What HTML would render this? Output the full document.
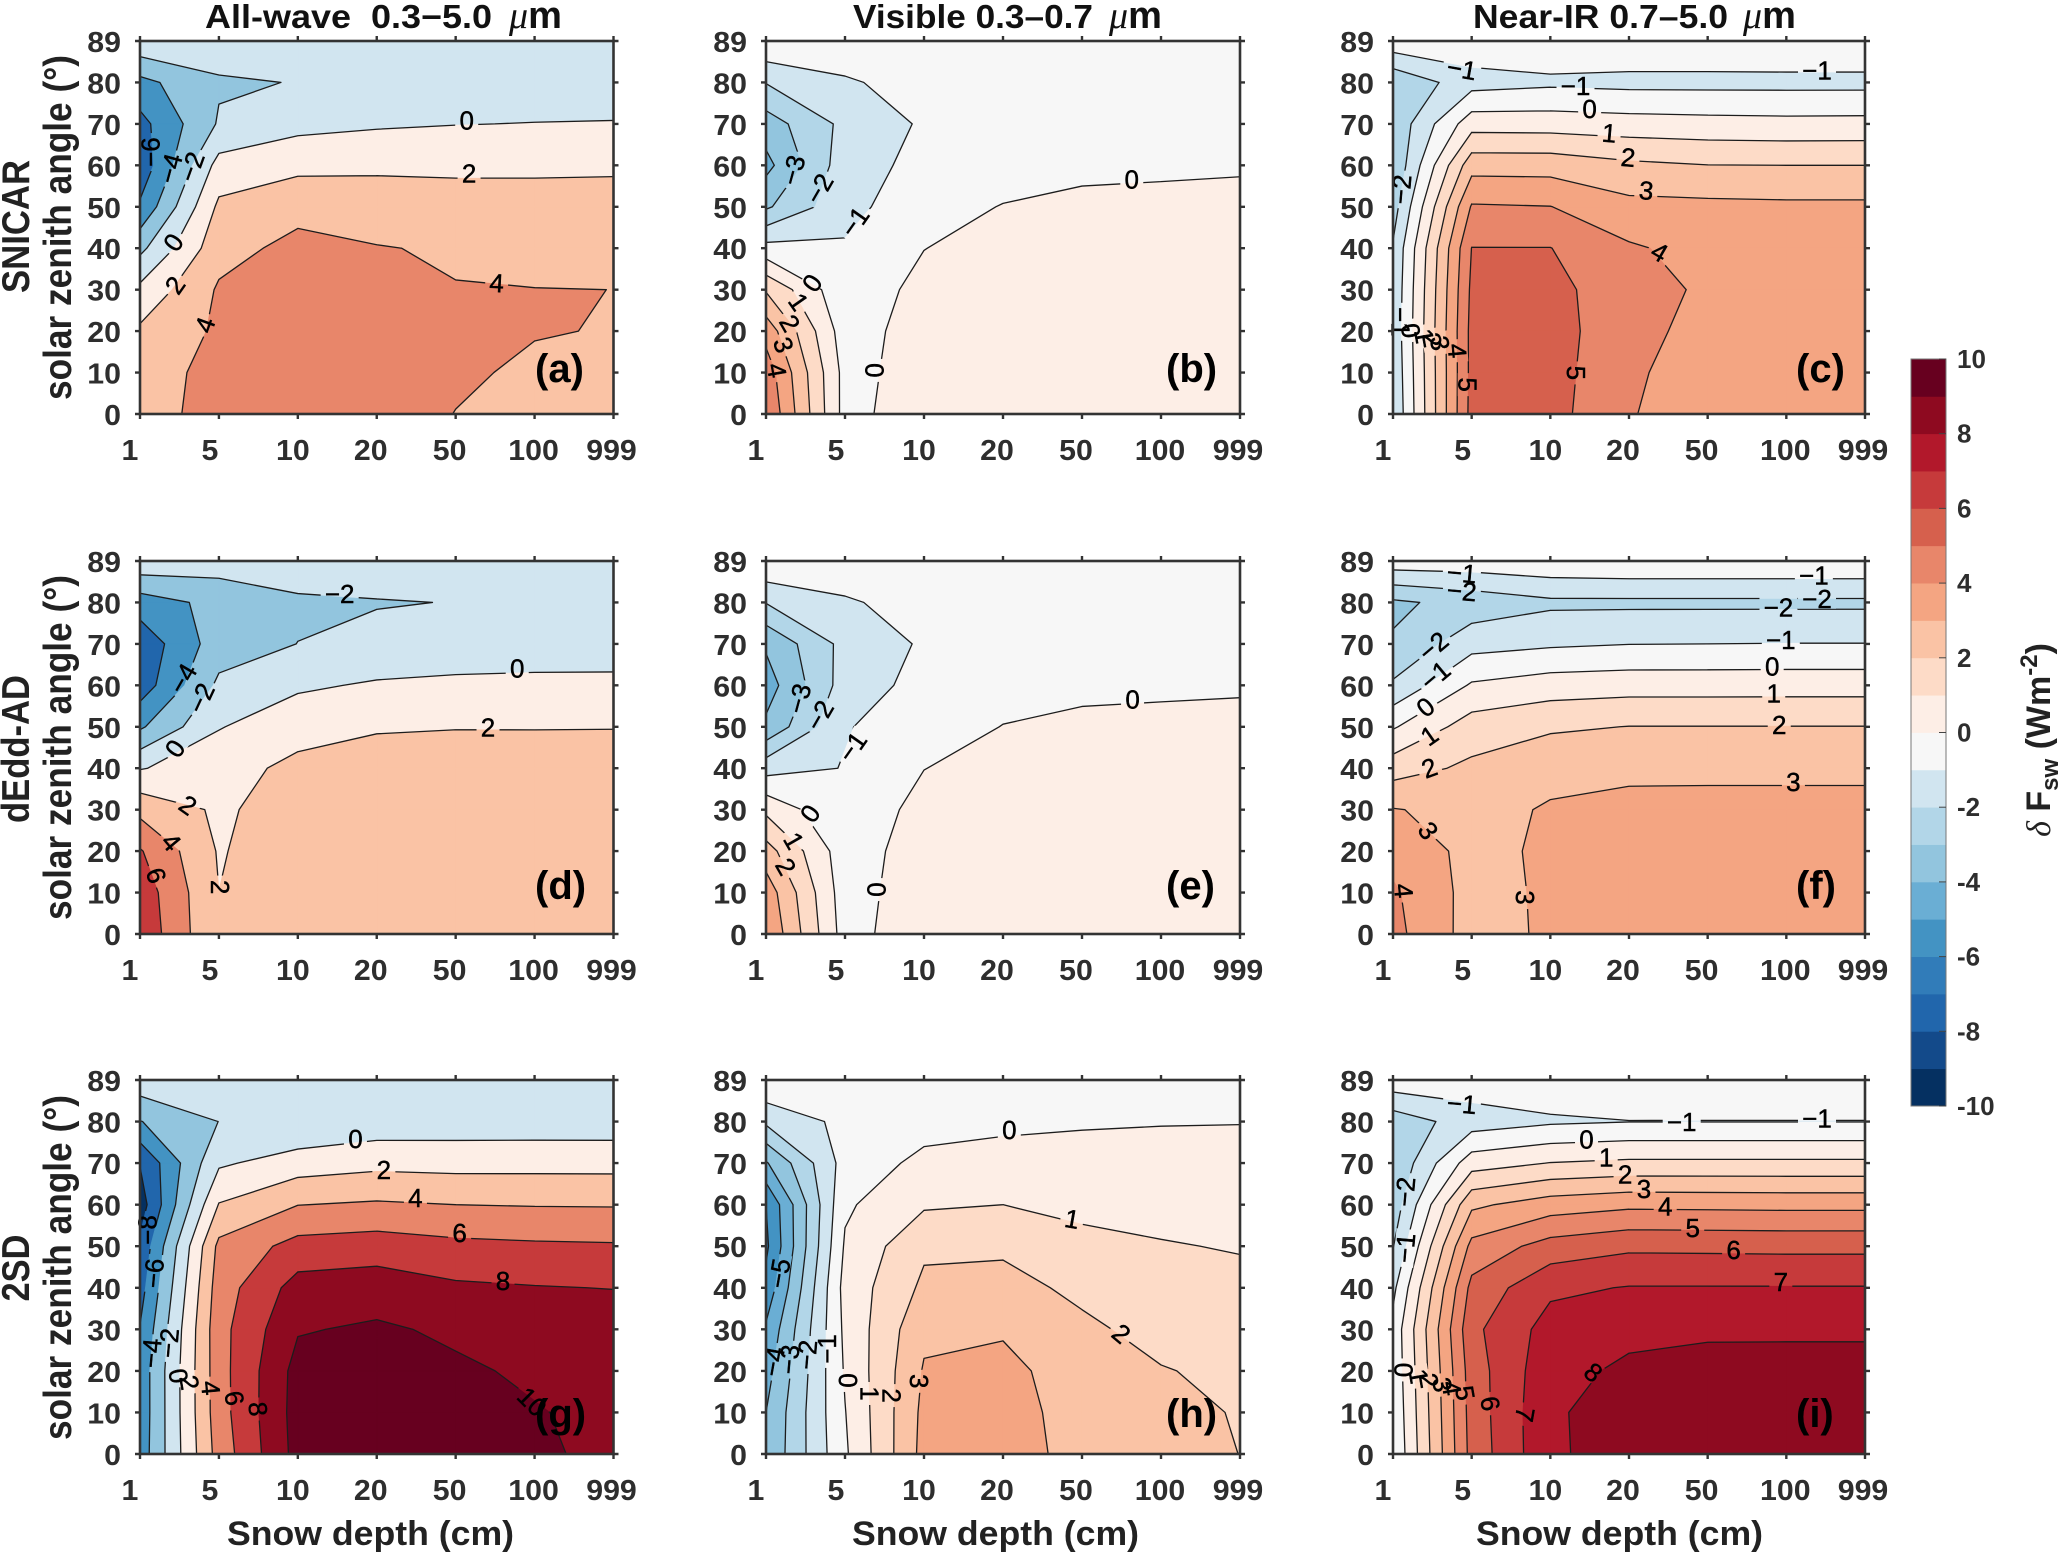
<!DOCTYPE html>
<html lang="en">
<head>
<meta charset="utf-8">
<title>Snow depth vs solar zenith angle contour panels</title>
<style>
html,body{margin:0;padding:0;background:#fff;}
svg{display:block;font-family:"Liberation Sans",Arial,sans-serif;}
.tick{font-weight:700;fill:#2e2e2e;font-size:29px;}
.axis-title{font-weight:700;fill:#222;}
.title{font-weight:700;fill:#111;font-size:33px;white-space:pre;}
.letter{font-weight:700;fill:#000;font-size:40px;}
.clabel{fill:#000;font-size:26px;stroke:#000;stroke-width:.45px;}
.cbtick{font-weight:700;fill:#2e2e2e;font-size:26px;}
</style>
</head>
<body>
<svg id="figure" xmlns="http://www.w3.org/2000/svg" width="2067" height="1552" viewBox="0 0 2067 1552">
  <rect x="0" y="0" width="2067" height="1552" fill="#fff"/>

  <text class="title" x="205" y="28" textLength="287" lengthAdjust="spacingAndGlyphs">All-wave  0.3−5.0</text>
  <text x="509" y="28" font-size="38" font-weight="700" fill="#111"><tspan font-family="'Liberation Serif',serif" font-style="italic" font-weight="400">μ</tspan>m</text>
  <text class="title" x="853" y="28" textLength="240" lengthAdjust="spacingAndGlyphs">Visible 0.3–0.7</text>
  <text x="1109" y="28" font-size="38" font-weight="700" fill="#111"><tspan font-family="'Liberation Serif',serif" font-style="italic" font-weight="400">μ</tspan>m</text>
  <text class="title" x="1473" y="28" textLength="255" lengthAdjust="spacingAndGlyphs">Near-IR 0.7–5.0</text>
  <text x="1743" y="28" font-size="38" font-weight="700" fill="#111"><tspan font-family="'Liberation Serif',serif" font-style="italic" font-weight="400">μ</tspan>m</text>

  <text class="axis-title" font-size="35" text-anchor="middle" textLength="133" lengthAdjust="spacingAndGlyphs" transform="translate(29,226.5) rotate(-90) scale(1,1.12)">SNICAR</text>
  <text class="axis-title" font-size="35" text-anchor="middle" textLength="148" lengthAdjust="spacingAndGlyphs" transform="translate(29,749) rotate(-90) scale(1,1.12)">dEdd-AD</text>
  <text class="axis-title" font-size="35" text-anchor="middle" textLength="67" lengthAdjust="spacingAndGlyphs" transform="translate(29,1268) rotate(-90) scale(1,1.12)">2SD</text>

  <text class="axis-title" font-size="35" text-anchor="middle" textLength="345" lengthAdjust="spacingAndGlyphs" transform="translate(71,227.5) rotate(-90) scale(1,1.12)">solar zenith angle (°)</text>
  <text class="axis-title" font-size="35" text-anchor="middle" textLength="345" lengthAdjust="spacingAndGlyphs" transform="translate(71,747.5) rotate(-90) scale(1,1.12)">solar zenith angle (°)</text>
  <text class="axis-title" font-size="35" text-anchor="middle" textLength="345" lengthAdjust="spacingAndGlyphs" transform="translate(71,1267.5) rotate(-90) scale(1,1.12)">solar zenith angle (°)</text>

  <text class="axis-title" font-size="34" x="227" y="1545" textLength="287" lengthAdjust="spacingAndGlyphs">Snow depth (cm)</text>
  <text class="axis-title" font-size="34" x="852" y="1545" textLength="287" lengthAdjust="spacingAndGlyphs">Snow depth (cm)</text>
  <text class="axis-title" font-size="34" x="1476" y="1545" textLength="287" lengthAdjust="spacingAndGlyphs">Snow depth (cm)</text>

  <g id="panels"></g>
  <g id="colorbar"></g>

  <text class="axis-title" font-size="34" text-anchor="middle" transform="translate(2050,740) rotate(-90)"><tspan font-family="'Liberation Serif',serif" font-style="italic" font-weight="400">δ</tspan> F<tspan font-size="24" dy="8">sw</tspan><tspan dy="-8">  (Wm</tspan><tspan font-size="24" dy="-13">-2</tspan><tspan dy="13">)</tspan></text>
</svg>

<script>
// Axis categories and tick labels
const depthCategories = ['1', '5', '10', '20', '50', '100', '999'];
const zenithAngles = [0, 10, 20, 30, 40, 50, 60, 70, 80, 89];
const zenithTicks = [0, 10, 20, 30, 40, 50, 60, 70, 80, 89];
const colorbarTicks = [10, 8, 6, 4, 2, 0, -2, -4, -6, -8, -10];

// Colormap, one colour per unit from -10 upward
const colormap = ['#053061','#134a8a','#2166ac','#317cb9','#4393c3','#6aaed4','#92c5de','#b2d6e8','#d1e5f0','#f7f7f7','#fdeee6','#fddbc7','#fac3a5','#f4a582','#e8866a','#d6604d','#c63a3b','#b2182b','#8e0a20','#67001f'];

// Series values: rows follow zenithAngles, columns follow depthCategories
const panelAValues = [
 [3.1,4.8,4.9,4.5,3.98,3.7,3.6],
 [2.9,4.75,5.0,4.7,4.15,3.84,3.7],
 [2.33,4.32,5.0,4.8,4.3,4.05,3.96],
 [.48,4.23,4.9,4.6,4.04,4.02,3.998],
 [-2.5,3.3,4.55,4.06,3.87,3.6,3.5],
 [-5.7,2.4,3.4,3.35,2.9,2.85,2.8],
 [-7.37,.73,1.5,1.55,1.6,1.62,1.7],
 [-6.66,-1.8,-.6,-.23,-.05,.05,.1],
 [-4.6,-2.22,-1.94,-1.5,-1.3,-1.2,-1.1],
 [-.42,-1,-.8,-.6,-.5,-.45,-.4]];
const panelBValues = [
 [4.96,-.37,.64,.75,.8,.8,.8],
 [4.6,-.35,.45,.7,.8,.8,.8],
 [3.6,-.55,.52,.65,.75,.8,.8],
 [1.9,-.8,.36,.6,.7,.75,.75],
 [-.65,-.9,-.02,.45,.55,.6,.65],
 [-3.15,-1.3,-.4,.04,.27,.34,.42],
 [-4.3,-1.45,-.71,-.45,-.27,-.22,-.16],
 [-3.49,-1.74,-.87,-.6,-.5,-.45,-.4],
 [-1.96,-1.1,-.68,-.5,-.4,-.35,-.3],
 [-.05,-.45,-.3,-.2,-.15,-.1,-.1]];
const panelCValues = [
 [-1.95,5.35,5.37,4.05,3.6,3.55,3.5],
 [-1.85,5.3,5.43,4.12,3.65,3.6,3.55],
 [-1.75,5.3,5.43,4.3,3.7,3.65,3.6],
 [-1.8,5.2,5.3,4.4,3.85,3.65,3.6],
 [-1.9,5.02,5.02,4.13,3.65,3.5,3.5],
 [-2.45,4.1,4.02,3.3,3.25,3.2,3.2],
 [-2.9,2.62,2.6,2.2,2.02,2.0,2.0],
 [-2.77,.58,.55,.43,.35,.3,.32],
 [-2.85,-1.4,-1.2,-1.3,-1.3,-1.3,-1.3],
 [-.3,-.3,-.2,-.15,-.15,-.1,-.1]];
const panelDValues = [
 [7.5,2.02,3.4,3.3,3.3,3.3,3.3],
 [7.2,2.01,3.4,3.4,3.35,3.3,3.3],
 [6.17,1.83,3.3,3.4,3.4,3.35,3.3],
 [3.42,1.69,2.9,3.4,3.4,3.35,3.35],
 [-.12,1.1,2.57,3.27,3.3,3.25,3.25],
 [-4.29,-.1,1.14,1.74,1.9,1.9,1.92],
 [-7.1,-1.6,-.28,.21,.42,.5,.5],
 [-7.38,-2.95,-1.98,-1.4,-1.2,-1.1,-1.05],
 [-5,-3.4,-2.3,-2.12,-1.95,-1.8,-1.7],
 [-.5,-1,-.9,-.7,-.6,-.5,-.4]];
const panelEValues = [
 [3.95,-.45,.75,.8,.85,.85,.85],
 [3.58,-.55,.7,.75,.85,.85,.85],
 [2.42,-.58,.55,.7,.8,.85,.85],
 [.78,-.95,.43,.6,.7,.75,.75],
 [-1.4,-.96,-.02,.45,.55,.6,.65],
 [-3.8,-1.05,-.6,.03,.26,.33,.4],
 [-4.47,-1.55,-.66,-.45,-.27,-.22,-.17],
 [-3.86,-1.68,-.88,-.6,-.5,-.45,-.4],
 [-1.96,-1.1,-.68,-.5,-.4,-.35,-.3],
 [-.03,-.45,-.3,-.2,-.15,-.1,-.1]];
const panelFValues = [
 [4.3,2.6,3.15,3.3,3.3,3.3,3.3],
 [4.15,2.65,3.15,3.3,3.3,3.3,3.3],
 [3.65,2.73,3.15,3.3,3.3,3.3,3.3],
 [3.05,2.72,3.08,3.13,3.14,3.14,3.14],
 [1.56,2.2,2.75,2.9,2.9,2.9,2.9],
 [-.1,1.48,1.85,2.02,2.02,2.02,2.02],
 [-1.85,.12,.5,.6,.6,.61,.61],
 [-2.9,-1.36,-1.15,-1.02,-1,-.98,-.98],
 [-3.18,-2.65,-2.2,-2.2,-2.2,-2.2,-2.2],
 [-.4,-.4,-.2,-.1,-.1,-.1,-.1]];
const panelGValues = [
 [-5.17,4.83,10.7,10.9,10.6,10.4,9.4],
 [-5.3,5.15,10.8,11,10.8,10.12,9.5],
 [-5.3,5.2,10.7,10.9,10.3,9.7,9.4],
 [-5.9,5.3,9.85,10.28,9.67,9.3,9.2],
 [-6.8,5.0,8.8,9.08,8.32,8.1,7.95],
 [-7.6,4.5,6.7,7,6.5,6.3,6.2],
 [-9,2.1,3.96,4.25,4,3.9,3.87],
 [-7.9,-.3,.97,1.45,1.32,1.35,1.34],
 [-4.07,-1.98,-1.9,-1.2,-1.1,-1.1,-1.1],
 [-.7,-.9,-.9,-.9,-1,-1,-1]];
const panelHValues = [
 [-3.9,-.15,3.33,3.4,2.7,2.4,1.99],
 [-4.0,-.035,3.25,3.45,2.55,2.3,1.93],
 [-4.4,.1,3.09,3.39,2.3,2.05,1.8],
 [-4.85,.21,2.79,2.85,2.18,1.7,1.5],
 [-5.7,.35,2.2,2.3,1.8,1.4,1.2],
 [-6.2,.12,1.83,1.85,1.28,1.05,.95],
 [-6.0,-.15,.87,1.0,.75,.75,.72],
 [-4.1,-.6,.25,.45,.38,.4,.38],
 [-1.8,-.72,-.38,-.25,-.1,-.05,-.03],
 [-.05,-.3,-.15,-.1,-.05,-.03,-.03]];
const panelIValues = [
 [-.96,5.35,7.85,8.43,8.55,8.6,8.6],
 [-.85,5.42,7.85,8.49,8.6,8.6,8.6],
 [-.75,5.5,7.7,8.17,8.4,8.42,8.42],
 [-.7,5.75,7.4,7.77,7.82,7.82,7.82],
 [-1.25,5.3,6.8,7.05,7.05,7.05,7.05],
 [-2.05,4.3,5.4,5.8,5.78,5.75,5.75],
 [-2.6,2.8,3.5,3.78,3.75,3.72,3.72],
 [-2.9,.55,1.03,1.2,1.2,1.2,1.2],
 [-2.6,-1.5,-1.15,-1.02,-1.02,-1.02,-1.02],
 [-.35,-.4,-.3,-.25,-.3,-.3,-.3]];

// Contour annotations: printed level, depth-category position, height within the axis (0-89), text tilt
const panelALabels = [['0',4.14,70.1,0],['2',4.17,57.5,0],['4',4.52,31.3,3],['−6',.13,62.5,-90],['−4',.38,58.6,-75],['−2',.65,59,-70],['0',.42,41,-55],['2',.44,30.8,-55],['4',.82,21.3,-70]];
const panelBLabels = [['0',4.63,56,0],['−3',.34,58.2,-75],['−2',.67,53.8,-60],['−1',1.12,45.9,-55],['0',.58,31.3,-55],['1',.415,26.8,55],['2',.305,21.7,60],['3',.225,16.5,70],['4',.14,10.4,80],['0',1.375,10.4,90]];
const panelCLabels = [['−1',.875,82.4,10],['−1',2.32,78.4,0],['−1',5.39,82.1,0],['0',2.5,72.9,0],['1',2.75,67.1,5],['2',2.99,61.3,5],['3',3.22,53.4,5],['4',3.39,38.7,30],['5',2.33,9.8,90],['5',.95,7,90],['−2',.1,53.6,-85],['−1',.1,22,90],['0',.23,19.9,80],['1',.4,18.6,80],['2',.5,17.7,80],['3',.6,16.9,80],['4',.82,15.1,85]];
const panelDLabels = [['−2',2.53,81.2,0],['0',4.78,63.4,0],['2',4.41,49.3,0],['−4',.54,61,-60],['−2',.77,56.3,-65],['0',.44,44.3,-55],['2',.61,30.8,35],['4',.4,22,50],['6',.21,14,70],['2',1.02,11.2,90]];
const panelELabels = [['0',4.64,56,0],['−3',.415,56.2,-75],['−2',.675,52.2,-60],['−1',1.09,44.7,-55],['0',.555,28.8,-55],['1',.355,22.3,60],['2',.255,16.1,60],['0',1.4,10.6,90]];
const panelFLabels = [['−1',.875,86.2,5],['−2',.875,81.9,5],['−1',5.35,85.6,0],['−2',5.39,80,0],['−2',4.9,78,0],['−1',4.93,70.2,0],['0',4.82,63.9,0],['1',4.84,57.5,0],['2',4.91,50,0],['3',5.09,36.3,0],['−2',.51,68.7,-40],['−1',.535,61.7,-40],['0',.41,54.2,-40],['1',.46,47.4,-35],['2',.46,39.7,-20],['3',.45,24.7,55],['4',.14,10.3,85],['3',1.68,8.7,90]];
const panelGLabels = [['0',2.73,75.1,0],['2',3.09,67.7,0],['4',3.49,61,0],['6',4.05,52.7,0],['8',4.6,41.3,0],['−8',.09,53.3,-90],['−6',.17,43,-85],['−4',.14,24,-85],['−2',.36,26.4,-85],['0',.49,18.6,80],['2',.63,17,80],['4',.9,15.7,85],['6',1.2,13.3,80],['8',1.5,10.7,85],['10',4.97,12.5,45]];
const panelHLabels = [['0',3.08,77.2,0],['1',3.875,56,10],['2',4.5,28.7,40],['−5',.165,43,-80],['−4',.09,22,-80],['−3',.29,22.5,-85],['−2',.515,23.6,-85],['−1',.765,25,-90],['0',1.04,17.5,90],['1',1.315,14.4,90],['2',1.59,13.9,90],['3',1.94,17.3,90]];
const panelILabels = [['−1',.875,83.4,5],['−1',3.67,79.1,0],['−1',5.39,79.9,0],['0',2.46,74.9,0],['1',2.71,70.6,0],['2',2.95,66.6,0],['3',3.19,63.1,0],['4',3.46,59,0],['5',3.81,53.9,0],['6',4.33,48.6,0],['7',4.93,41,0],['8',2.55,19.5,40],['−2',.15,62.4,-85],['−1',.15,49,-85],['0',.136,20,90],['1',.33,18.5,80],['2',.46,17.5,80],['3',.63,16.5,80],['4',.75,15.7,80],['5',.92,14.5,80],['6',1.24,12,80],['7',1.68,9.4,100]];

const NS = 'http://www.w3.org/2000/svg';
const panelsRoot = document.getElementById('panels');
const colorbarRoot = document.getElementById('colorbar');

function make(tag, attrs, parent) {
  const el = document.createElementNS(NS, tag);
  for (const k in attrs) el.setAttribute(k, attrs[k]);
  if (parent) parent.appendChild(el);
  return el;
}

const columnFrames = [[140, 613.5], [766, 1240], [1393, 1865]];
const rowFrames = [[41, 414], [561, 934], [1080, 1454]];
const xTickShift = [-10, -9, -5, -6, -6, -1, -2];
const letterLeft = [535, 1166, 1796];
const letterBase = [382, 899, 1427];

const panelDefs = [
  {id:'a', col:0, row:0, step:2, values:panelAValues, labels:panelALabels},
  {id:'b', col:1, row:0, step:1, values:panelBValues, labels:panelBLabels},
  {id:'c', col:2, row:0, step:1, values:panelCValues, labels:panelCLabels},
  {id:'d', col:0, row:1, step:2, values:panelDValues, labels:panelDLabels},
  {id:'e', col:1, row:1, step:1, values:panelEValues, labels:panelELabels},
  {id:'f', col:2, row:1, step:1, values:panelFValues, labels:panelFLabels},
  {id:'g', col:0, row:2, step:2, values:panelGValues, labels:panelGLabels},
  {id:'h', col:1, row:2, step:1, values:panelHValues, labels:panelHLabels},
  {id:'i', col:2, row:2, step:1, values:panelIValues, labels:panelILabels}
];

function xScale(p, pos) { return p.x0 + pos / (depthCategories.length - 1) * (p.x1 - p.x0); }
// The zenith axis is categorical: rows are evenly spaced, including 80 to 89
function yScale(p, rowIndex) { return p.y1 - rowIndex / (zenithAngles.length - 1) * (p.y1 - p.y0); }
function yLabelPos(p, h) { return p.y1 - h / 89 * (p.y1 - p.y0); }
function levelColor(level) { return colormap[Math.max(0, Math.min(19, level + 10))]; }
function fmt(n) { return n.toFixed(2); }

function cellCorners(p, vals, i, j) {
  return [[j, i], [j + 1, i], [j + 1, i + 1], [j, i + 1]].map(function (c) {
    return { x: xScale(p, c[0]), y: yScale(p, c[1]), v: vals[c[1]][c[0]] };
  });
}

function bandPath(p, vals, level) {
  let d = '';
  for (let i = 0; i < zenithAngles.length - 1; i++) {
    for (let j = 0; j < depthCategories.length - 1; j++) {
      const q = cellCorners(p, vals, i, j);
      const poly = [];
      for (let k = 0; k < 4; k++) {
        const a = q[k], b = q[(k + 1) % 4];
        if (a.v >= level) poly.push(a);
        if ((a.v >= level) !== (b.v >= level)) {
          const f = (level - a.v) / (b.v - a.v);
          poly.push({ x: a.x + f * (b.x - a.x), y: a.y + f * (b.y - a.y) });
        }
      }
      if (poly.length > 2) {
        d += 'M' + poly.map(function (pt) { return fmt(pt.x) + ' ' + fmt(pt.y); }).join('L') + 'Z';
      }
    }
  }
  return d;
}

function linePath(p, vals, level) {
  let d = '';
  for (let i = 0; i < zenithAngles.length - 1; i++) {
    for (let j = 0; j < depthCategories.length - 1; j++) {
      const q = cellCorners(p, vals, i, j);
      const hits = [];
      for (let k = 0; k < 4; k++) {
        const a = q[k], b = q[(k + 1) % 4];
        if ((a.v >= level) !== (b.v >= level)) {
          const f = (level - a.v) / (b.v - a.v);
          hits.push({ x: a.x + f * (b.x - a.x), y: a.y + f * (b.y - a.y) });
        }
      }
      for (let h = 0; h + 1 < hits.length; h += 2) {
        d += 'M' + fmt(hits[h].x) + ' ' + fmt(hits[h].y) + 'L' + fmt(hits[h + 1].x) + ' ' + fmt(hits[h + 1].y);
      }
    }
  }
  return d;
}

function drawPanel(def) {
  const p = {
    x0: columnFrames[def.col][0], x1: columnFrames[def.col][1],
    y0: rowFrames[def.row][0], y1: rowFrames[def.row][1]
  };
  const g = make('g', {}, panelsRoot);
  
  

  // Filled bands, lowest level first
  for (let L = -10; L <= 10; L += def.step) {
    const d = bandPath(p, def.values, L);
    if (!d) continue;
    const c = levelColor(L);
    const band = make('path', { d: d, fill: c, stroke: c, 'stroke-width': 0.6 }, g);
    
    
  }

  // Gaps where contour labels interrupt the lines
  const mask = make('mask', {
    id: 'gap-' + def.id, maskUnits: 'userSpaceOnUse',
    x: p.x0 - 5, y: p.y0 - 5, width: p.x1 - p.x0 + 10, height: p.y1 - p.y0 + 10
  }, g);
  make('rect', { x: p.x0 - 5, y: p.y0 - 5, width: p.x1 - p.x0 + 10, height: p.y1 - p.y0 + 10, fill: '#fff' }, mask);
  def.labels.forEach(function (lab) {
    const cx = xScale(p, lab[1]), cy = yLabelPos(p, lab[2]);
    const w = lab[0].length * 15 + 8, h = 20;
    make('rect', {
      x: cx - w / 2, y: cy - h / 2, width: w, height: h, fill: '#000',
      transform: 'rotate(' + lab[3] + ' ' + cx + ' ' + cy + ')'
    }, mask);
  });

  // Contour lines
  const lines = make('g', { mask: 'url(#gap-' + def.id + ')' }, g);
  for (let L = -10; L <= 10; L += def.step) {
    const d = linePath(p, def.values, L);
    if (!d) continue;
    const line = make('path', { d: d, fill: 'none', stroke: '#1c1c1c', 'stroke-width': 1.3, 'stroke-linecap': 'round' }, lines);
    
    
  }

  // Contour labels
  def.labels.forEach(function (lab) {
    const cx = xScale(p, lab[1]), cy = yLabelPos(p, lab[2]);
    const t = make('text', {
      class: 'clabel', x: cx, y: cy, dy: '.36em', 'text-anchor': 'middle',
      transform: 'rotate(' + lab[3] + ' ' + cx + ' ' + cy + ')'
    }, g);
    t.textContent = lab[0];
    
    
  });

  // Axis ticks on all four sides
  const tickPath = [];
  depthCategories.forEach(function (c, idx) {
    const x = xScale(p, idx);
    tickPath.push('M' + fmt(x) + ' ' + fmt(p.y1) + 'V' + fmt(p.y1 + 5));
    tickPath.push('M' + fmt(x) + ' ' + fmt(p.y0) + 'V' + fmt(p.y0 - 5));
  });
  zenithTicks.forEach(function (deg, idx) {
    const y = yScale(p, idx);
    tickPath.push('M' + fmt(p.x0) + ' ' + fmt(y) + 'H' + fmt(p.x0 - 5));
    tickPath.push('M' + fmt(p.x1) + ' ' + fmt(y) + 'H' + fmt(p.x1 + 5));
  });
  const ticks = make('path', { d: tickPath.join(''), stroke: '#333', 'stroke-width': 2.4, fill: 'none' }, g);
  
  

  // Frame
  const frame = make('rect', {
    x: p.x0, y: p.y0, width: p.x1 - p.x0, height: p.y1 - p.y0,
    fill: 'none', stroke: '#333', 'stroke-width': 2.6
  }, g);
  
  

  // X tick labels
  depthCategories.forEach(function (c, idx) {
    const t = make('text', {
      class: 'tick', x: xScale(p, idx) + xTickShift[idx], y: p.y1 + 46, 'text-anchor': 'middle',
      textLength: c.length * 16.85, lengthAdjust: 'spacingAndGlyphs'
    }, g);
    t.textContent = c;
    
    
  });

  // Y tick labels
  zenithTicks.forEach(function (deg, idx) {
    const s = String(deg);
    const t = make('text', {
      class: 'tick', x: p.x0 - 19, y: yScale(p, idx) + 11, 'text-anchor': 'end',
      textLength: s.length * 16.85, lengthAdjust: 'spacingAndGlyphs'
    }, g);
    t.textContent = s;
    
    
  });

  // Panel letter
  const letter = make('text', { class: 'letter', x: letterLeft[def.col], y: letterBase[def.row] }, g);
  letter.textContent = '(' + def.id + ')';
  
  
}

panelDefs.forEach(drawPanel);

// Colorbar
const cbLeft = 1911, cbRight = 1946, cbTop = 359, cbBottom = 1106;
function cbY(v) { return cbTop + (10 - v) / 20 * (cbBottom - cbTop); }

colormap.forEach(function (c, i) {
  const low = -10 + i;
  const seg = make('rect', {
    x: cbLeft, y: cbY(low + 1), width: cbRight - cbLeft,
    height: cbY(low) - cbY(low + 1) + 0.4, fill: c
  }, colorbarRoot);
  
  
});
const cbFrame = make('rect', {
  x: cbLeft, y: cbTop, width: cbRight - cbLeft, height: cbBottom - cbTop,
  fill: 'none', stroke: '#777', 'stroke-width': 1
}, colorbarRoot);



colorbarTicks.forEach(function (v) {
  const y = cbY(v);
  const tk = make('line', { x1: cbRight - 7, x2: cbRight, y1: y, y2: y, stroke: '#444', 'stroke-width': 1 }, colorbarRoot);
  
  
  const t = make('text', { class: 'cbtick', x: 1957, y: y + 9 }, colorbarRoot);
  t.textContent = String(v);
  
  
});
</script>
</body>
</html>
